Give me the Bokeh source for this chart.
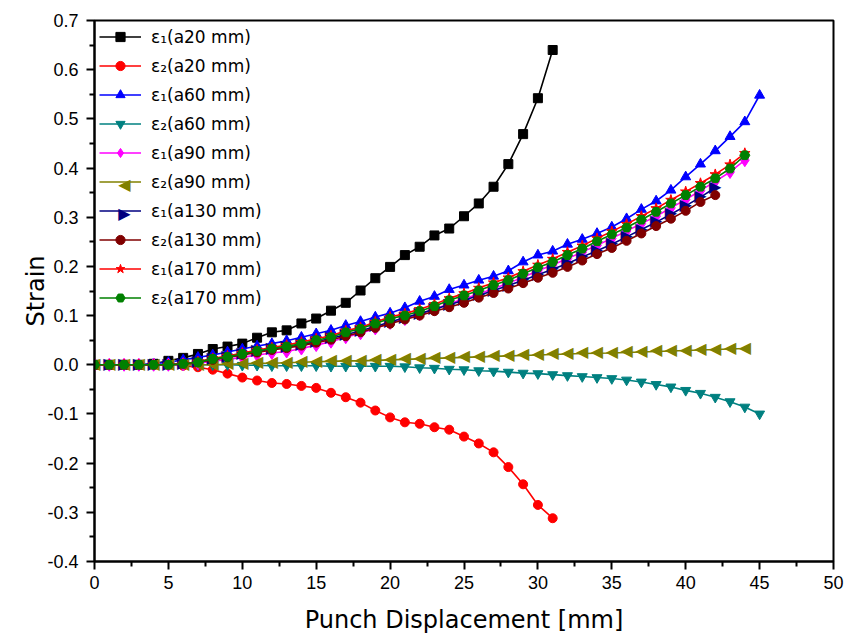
from bokeh.plotting import figure
from bokeh.models import Range1d, PrintfTickFormatter, FixedTicker, Legend, LegendItem, Label
from bokeh.core.properties import value
from bokeh.embed import file_html
from bokeh.resources import INLINE

# ---- data (punch displacement in mm, strain) ----
disp_31 = [0, 1, 2, 3, 4, 5, 6, 7, 8, 9, 10, 11, 12, 13, 14, 15, 16, 17, 18, 19,
           20, 21, 22, 23, 24, 25, 26, 27, 28, 29, 30, 31]
disp_42 = disp_31 + [32, 33, 34, 35, 36, 37, 38, 39, 40, 41, 42]
disp_44 = disp_42 + [43, 44]
disp_45 = disp_44 + [45]

e1_a20 = [0, 0, 0, 0, 0.002, 0.008, 0.014, 0.022, 0.032, 0.037, 0.043, 0.055, 0.066, 0.070,
          0.084, 0.094, 0.110, 0.126, 0.151, 0.176, 0.199, 0.223, 0.240, 0.263, 0.277, 0.302,
          0.328, 0.362, 0.408, 0.469, 0.542, 0.640]
e2_a20 = [0, 0, 0, 0, 0, 0, -0.002, -0.005, -0.010, -0.018, -0.026, -0.032, -0.037, -0.039,
          -0.043, -0.047, -0.057, -0.066, -0.077, -0.093, -0.107, -0.117, -0.120, -0.127,
          -0.132, -0.146, -0.160, -0.178, -0.208, -0.243, -0.285, -0.312]
e1_a60 = [0, 0, 0, 0, 0.002, 0.005, 0.010, 0.015, 0.020, 0.026, 0.032, 0.038, 0.043, 0.049,
          0.056, 0.063, 0.070, 0.080, 0.088, 0.097, 0.105, 0.116, 0.129, 0.139, 0.153, 0.162,
          0.172, 0.180, 0.191, 0.209, 0.223, 0.231, 0.245, 0.255, 0.267, 0.280, 0.297, 0.316,
          0.333, 0.355, 0.382, 0.408, 0.435, 0.464, 0.494, 0.548]
e2_a60 = [0, 0, 0, 0, 0, 0, 0, 0, 0, 0, -0.001, -0.001, -0.002, -0.002, -0.002, -0.002,
          -0.003, -0.003, -0.003, -0.003, -0.003, -0.004, -0.006, -0.007, -0.009, -0.010,
          -0.012, -0.013, -0.015, -0.017, -0.018, -0.020, -0.022, -0.024, -0.026, -0.028,
          -0.031, -0.035, -0.040, -0.045, -0.052, -0.058, -0.066, -0.075, -0.086, -0.100]
e1_a90 = [0, 0, 0, 0, 0, 0, 0.001, 0.003, 0.007, 0.011, 0.015, 0.020, 0.024, 0.027, 0.033,
          0.040, 0.047, 0.056, 0.064, 0.074, 0.085, 0.093, 0.103, 0.113, 0.124, 0.134, 0.144,
          0.155, 0.166, 0.178, 0.191, 0.203, 0.216, 0.229, 0.243, 0.257, 0.272, 0.287, 0.302,
          0.319, 0.336, 0.354, 0.373, 0.392, 0.416]
e2_a90 = [0, 0, 0, 0, 0, 0, 0, 0, 0, 0.001, 0.002, 0.003, 0.003, 0.004, 0.005, 0.006, 0.007,
          0.008, 0.008, 0.009, 0.010, 0.011, 0.012, 0.013, 0.014, 0.015, 0.016, 0.017, 0.018,
          0.019, 0.020, 0.021, 0.022, 0.023, 0.0235, 0.024, 0.025, 0.026, 0.027, 0.028, 0.029,
          0.030, 0.031, 0.032, 0.033]
e1_a130 = [0, 0, 0, 0, 0, 0, 0.002, 0.006, 0.011, 0.016, 0.021, 0.027, 0.032, 0.036, 0.041,
           0.047, 0.054, 0.061, 0.069, 0.078, 0.087, 0.096, 0.104, 0.113, 0.122, 0.131, 0.141,
           0.151, 0.161, 0.172, 0.183, 0.194, 0.206, 0.219, 0.232, 0.245, 0.260, 0.275, 0.290,
           0.306, 0.323, 0.341, 0.360]
e2_a130 = [0, 0, 0, 0, 0, 0, 0.002, 0.005, 0.010, 0.015, 0.020, 0.025, 0.030, 0.034, 0.039,
           0.045, 0.051, 0.058, 0.066, 0.075, 0.0835, 0.092, 0.100, 0.109, 0.117, 0.126,
           0.1365, 0.146, 0.155, 0.166, 0.177, 0.187, 0.199, 0.212, 0.225, 0.2375, 0.252,
           0.267, 0.282, 0.297, 0.313, 0.331, 0.345]
e1_a170 = [0, 0, 0, 0, 0, 0, 0.002, 0.006, 0.013, 0.018, 0.024, 0.030, 0.035, 0.040, 0.046,
           0.053, 0.059, 0.069, 0.076, 0.087, 0.097, 0.104, 0.113, 0.123, 0.135, 0.145, 0.156,
           0.167, 0.177, 0.190, 0.203, 0.215, 0.229, 0.242, 0.257, 0.271, 0.286, 0.302, 0.318,
           0.335, 0.352, 0.369, 0.387, 0.407, 0.430]
e2_a170 = [0, 0, 0, 0, 0, 0, 0.002, 0.005, 0.012, 0.016, 0.022, 0.028, 0.033, 0.037, 0.043,
           0.050, 0.056, 0.066, 0.073, 0.084, 0.094, 0.100, 0.109, 0.119, 0.131, 0.141, 0.151,
           0.162, 0.172, 0.185, 0.198, 0.209, 0.223, 0.236, 0.251, 0.265, 0.279, 0.295, 0.311,
           0.328, 0.345, 0.362, 0.379, 0.399, 0.426]

labels = ["ε\u2081(a20 mm)", "ε\u2082(a20 mm)", "ε\u2081(a60 mm)", "ε\u2082(a60 mm)",
          "ε\u2081(a90 mm)", "ε\u2082(a90 mm)", "ε\u2081(a130 mm)", "ε\u2082(a130 mm)",
          "ε\u2081(a170 mm)", "ε\u2082(a170 mm)"]
x_ticks = [0, 5, 10, 15, 20, 25, 30, 35, 40, 45, 50]
y_ticks = [-0.4, -0.3, -0.2, -0.1, 0.0, 0.1, 0.2, 0.3, 0.4, 0.5, 0.6, 0.7]

# marker: Bokeh marker name, or a glyph character drawn as text
series = [
    (disp_31, e1_a20, "black", "square", 9),
    (disp_31, e2_a20, "#FF0000", "circle", 9),
    (disp_45, e1_a60, "#0000FF", "triangle", 10),
    (disp_45, e2_a60, "#008080", "inverted_triangle", 10),
    (disp_44, e1_a90, "#FF00FF", "diamond", 13),
    (disp_44, e2_a90, "#808000", "\u25C0", 16),
    (disp_42, e1_a130, "#000080", "\u25B6", 16),
    (disp_42, e2_a130, "#800000", "circle", 9),
    (disp_44, e1_a170, "#FF0000", "star", 11),
    (disp_44, e2_a170, "#008000", "hex", 10),
]
TXT_SHIFT = 1.5  # px: lift the text triangles so they sit on their lines

W, H = 861, 636
p = figure(width=W, height=H, output_backend="svg", toolbar_location=None,
           x_range=Range1d(0, 50), y_range=Range1d(-0.4, 0.7))
p.min_border_left = 94
p.min_border_right = 28
p.min_border_top = 20
p.min_border_bottom = 75
p.background_fill_color = "white"
p.border_fill_color = "white"
p.outline_line_color = "black"
p.outline_line_width = 2
p.xgrid.visible = False
p.ygrid.visible = False

# legend geometry (pixels)
LG_MARGIN, LG_PAD, LG_GW, LG_H, LG_SP = 5, 4, 42, 23, 6

items = []
for i, ((xs, ys, col, mk, sz), lab) in enumerate(zip(series, labels)):
    rl = p.line(xs, ys, line_color=col, line_width=1.6)
    if len(mk) == 1:
        rm = p.text(xs, ys, text=value(mk), text_color=col, text_font=value("DejaVu Sans"),
                    text_font_size=f"{sz}px", text_align="center", text_baseline="middle",
                    y_offset=-TXT_SHIFT)
        # the legend cannot draw a text glyph, so put the same symbol over its entry
        cx = p.min_border_left + LG_MARGIN + LG_PAD + LG_GW / 2
        cy = p.min_border_top + LG_MARGIN + LG_PAD + LG_H / 2 + i * (LG_H + LG_SP) - TXT_SHIFT
        p.add_layout(Label(x=cx, y=cy, x_units="canvas", y_units="canvas", text=mk,
                           text_color=col, text_font="DejaVu Sans",
                           text_font_size=f"{sz}px", text_align="center",
                           text_baseline="middle"))
    else:
        rm = p.scatter(xs, ys, marker=mk, size=sz, fill_color=col, line_color=col)
    items.append(LegendItem(label=lab, renderers=[rl, rm]))

for ax in (p.xaxis[0], p.yaxis[0]):
    ax.axis_line_width = 2
    ax.axis_line_color = "black"
    ax.major_tick_line_width = 2
    ax.minor_tick_line_width = 2
    ax.major_tick_out = 8
    ax.major_tick_in = 0
    ax.minor_tick_out = 5
    ax.minor_tick_in = 0
    ax.major_label_text_font = "Liberation Sans"
    ax.major_label_text_font_size = "18px"
    ax.major_label_text_color = "black"
    ax.axis_label_text_font = "DejaVu Sans"
    ax.axis_label_text_font_size = "24px"
    ax.axis_label_text_font_style = "normal"
    ax.axis_label_text_color = "black"

p.xaxis.ticker = FixedTicker(ticks=x_ticks, minor_ticks=[2.5 + 5 * i for i in range(10)])
p.yaxis.ticker = FixedTicker(ticks=y_ticks,
                             minor_ticks=[-0.35 + 0.1 * i for i in range(11)])
p.xaxis.formatter = PrintfTickFormatter(format="%d")
p.yaxis.formatter = PrintfTickFormatter(format="%.1f")
p.xaxis.axis_label = "Punch Displacement [mm]"
p.yaxis.axis_label = "Strain"
p.xaxis.major_label_standoff = 6
p.yaxis.major_label_standoff = 8
p.xaxis.axis_label_standoff = 14
p.yaxis.axis_label_standoff = -6

lg = Legend(items=items, location="top_left")
lg.border_line_color = None
lg.background_fill_alpha = 0
lg.margin = LG_MARGIN
lg.padding = LG_PAD
lg.spacing = LG_SP
lg.glyph_width = LG_GW
lg.glyph_height = LG_H
lg.label_height = LG_H
lg.label_standoff = 10
lg.label_text_font = "DejaVu Sans"
lg.label_text_font_size = "17px"
lg.label_text_color = "black"
p.add_layout(lg, "center")

open("out.html", "w").write(file_html(p, INLINE))
